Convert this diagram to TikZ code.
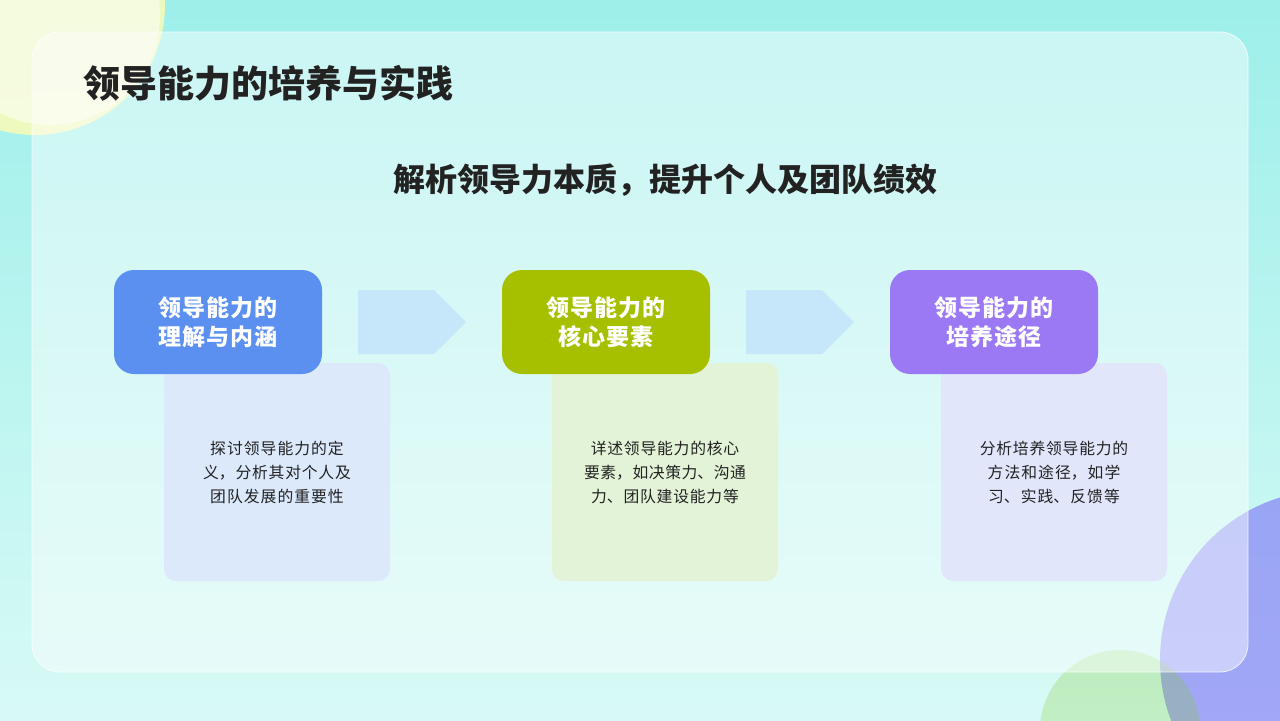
\documentclass[tikz,border=0pt]{standalone}
\usepackage{fontspec}
\setmainfont{Noto Sans CJK SC}
\XeTeXlinebreaklocale "zh"
\XeTeXlinebreakskip=0pt plus 0.5pt
\usetikzlibrary{positioning,shapes.arrows,fadings}
\definecolor{bgcyan}{HTML}{9DEFEA}
\definecolor{bgpale}{HTML}{D8FAF6}
\definecolor{inkdark}{HTML}{222222}
\definecolor{headblue}{HTML}{5B8FF0}
\definecolor{headgreen}{HTML}{A6C000}
\definecolor{headpurple}{HTML}{9C79F4}
\definecolor{backblue}{HTML}{DCE9FB}
\definecolor{backgreen}{HTML}{E3F3D8}
\definecolor{backpurple}{HTML}{E1E6FB}
\definecolor{arrowblue}{HTML}{C6E6FA}
\tikzset{
  head/.style={rounded corners=10pt,minimum width=104pt,minimum height=52pt,
    text width=97pt,align=center,text=white,font=\bfseries\fontsize{11.5}{14.5}\selectfont},
  back/.style={rounded corners=6pt,minimum width=113pt,minimum height=109pt},
  desc/.style={text width=99pt,align=center,text=inkdark,font=\fontsize{7.9}{12}\selectfont},
  flow/.style={single arrow,fill=arrowblue,minimum height=54pt,minimum width=32pt,
    single arrow head extend=0pt,inner sep=0pt,shape border rotate=0}
}
\begin{document}
\begin{tikzpicture}[x=0.5pt,y=-0.5pt]
  % background
  \useasboundingbox (0,0) rectangle (1280,720);
  \shade[top color=bgcyan,bottom color=bgpale] (0,0) rectangle (1280,720);
  \fill[yellow!30!white,opacity=0.8] (35,5) circle[radius=130];
  \fill[white,opacity=0.5] (50,15) circle[radius=110];
  \fill[headpurple!70!blue,opacity=0.5] (1330,660) circle[radius=170];
  \fill[yellow!50!green,opacity=0.25] (1120,730) circle[radius=80];
  % main panel
  \fill[white,opacity=0.45,rounded corners=14pt] (32,32) rectangle (1248,672);
  \draw[white,opacity=0.8,rounded corners=14pt] (32,32) rectangle (1248,672);
  % titles
  \node[anchor=west,text=inkdark,font=\bfseries\fontsize{18.5}{22}\selectfont] (title) at (76,83) {领导能力的培养与实践};
  \node[text=inkdark,font=\bfseries\fontsize{16}{19}\selectfont] (sub) at (665,180) {解析领导力本质，提升个人及团队绩效};
  % cards
  \node[back,fill=backblue] (b1) at (277,472) {};
  \node[back,fill=backgreen] (b2) at (665,472) {};
  \node[back,fill=backpurple] (b3) at (1054,472) {};
  \node[head,fill=headblue] (h1) at (218,322) {领导能力的理解与内涵};
  \node[head,fill=headgreen] (h2) at (606,322) {领导能力的核心要素};
  \node[head,fill=headpurple] (h3) at (994,322) {领导能力的培养途径};
  \node[desc] (d1) at (b1) {探讨领导能力的定义，分析其对个人及团队发展的重要性};
  \node[desc] (d2) at (b2) {详述领导能力的核心要素，如决策力、沟通力、团队建设能力等};
  \node[desc] (d3) at (b3) {分析培养领导能力的方法和途径，如学习、实践、反馈等};
  % arrows
  \node[flow] (a1) at (396,322) {};
  \node[flow] (a2) at (784,322) {};
\end{tikzpicture}
\end{document}
